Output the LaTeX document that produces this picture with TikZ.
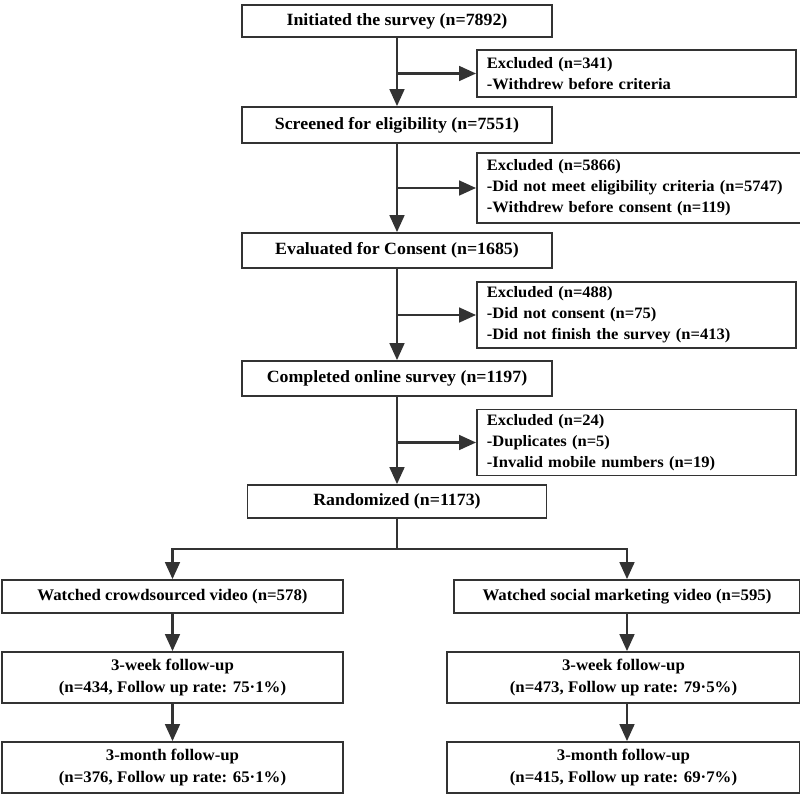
\documentclass[tikz,border=0pt]{standalone}
\usepackage{fontspec}
\setmainfont{Liberation Serif}[FakeStretch=1.04]
\usetikzlibrary{arrows.meta}

\tikzset{
  box/.style={draw=black!80, line width=1.3pt, fill=white, inner xsep=0.3cm,
    font=\fontsize{11.5}{15}\selectfont\bfseries, align=center},
  mainbox/.style={box, font=\fontsize{12.2}{15}\selectfont\bfseries},
  exbox/.style={box, inner xsep=0.25cm, font=\fontsize{11.3}{15}\selectfont\bfseries,
    align=left, anchor=west},
  arr/.style={draw=black!80, line width=1.5pt, -{Triangle[length=12pt,width=10.5pt]}},
  ln/.style={draw=black!80, line width=1.5pt}
}

\begin{document}
\begin{tikzpicture}[x=0.025cm,y=-0.025cm]
\useasboundingbox (0,0) rectangle (800,794);

% main column
\node[mainbox, minimum width=7.75cm, minimum height=0.8cm] (init) at (397,21) {Initiated the survey (n=7892)};
\node[mainbox, minimum width=7.75cm, minimum height=0.9cm] (scr) at (397,125) {Screened for eligibility (n=7551)};
\node[mainbox, minimum width=7.75cm, minimum height=0.875cm] (eva) at (397,250.5) {Evaluated for Consent (n=1685)};
\node[mainbox, minimum width=7.75cm, minimum height=0.875cm] (comp) at (397,378.5) {Completed online survey (n=1197)};
\node[mainbox, minimum width=7.475cm, minimum height=0.825cm] (rand) at (397,501.5) {Randomized (n=1173)};

% exclusions
\node[exbox, text width=7.475cm, minimum height=1.175cm] (ex1) at (476,73.5) {Excluded (n=341)\\-Withdrew before criteria};
\node[exbox, text width=7.6cm, minimum height=1.75cm] (ex2) at (476,188) {Excluded (n=5866)\\-Did not meet eligibility criteria (n=5747)\\-Withdrew before consent (n=119)};
\node[exbox, text width=7.475cm, minimum height=1.65cm] (ex3) at (476,315) {Excluded (n=488)\\-Did not consent (n=75)\\-Did not finish the survey (n=413)};
\node[exbox, text width=7.475cm, minimum height=1.625cm] (ex4) at (476,442.5) {Excluded (n=24)\\-Duplicates (n=5)\\-Invalid mobile numbers (n=19)};

% arms
\node[box, minimum width=8.525cm, minimum height=0.825cm] (crowd) at (172.5,596.5) {Watched crowdsourced video (n=578)};
\node[box, minimum width=8.525cm, minimum height=1.275cm] (cwk) at (172.5,677.5) {3-week follow-up\\(n=434, Follow up rate: 75·1\%)};
\node[box, minimum width=8.525cm, minimum height=1.275cm] (cmo) at (172.5,767.5) {3-month follow-up\\(n=376, Follow up rate: 65·1\%)};
\node[box, minimum width=8.65cm, minimum height=0.825cm] (soc) at (627,596.5) {Watched social marketing video (n=595)};
\node[box, minimum width=8.825cm, minimum height=1.275cm] (swk) at (623.5,677.5) {3-week follow-up\\(n=473, Follow up rate: 79·5\%)};
\node[box, minimum width=8.825cm, minimum height=1.275cm] (smo) at (623.5,767.5) {3-month follow-up\\(n=415, Follow up rate: 69·7\%)};

% connectors
\draw[arr] (init) -- (scr);
\draw[arr] (scr) -- (eva);
\draw[arr] (eva) -- (comp);
\draw[arr] (comp) -- (rand);
\draw[arr] (init.south |- ex1.west) -- (ex1.west);
\draw[arr] (scr.south |- ex2.west) -- (ex2.west);
\draw[arr] (eva.south |- ex3.west) -- (ex3.west);
\draw[arr] (comp.south |- ex4.west) -- (ex4.west);

\coordinate (split) at (397,549);
\draw[ln] (rand.south) -- (split);
\draw[arr] (split) -| (crowd.north);
\draw[arr] (split) -| (soc.north);
\draw[arr] (crowd) -- (cwk);
\draw[arr] (cwk) -- (cmo);
\draw[arr] (soc.south) -- (soc.south |- swk.north);
\draw[arr] (soc.south |- swk.south) -- (soc.south |- smo.north);
\end{tikzpicture}
\end{document}
